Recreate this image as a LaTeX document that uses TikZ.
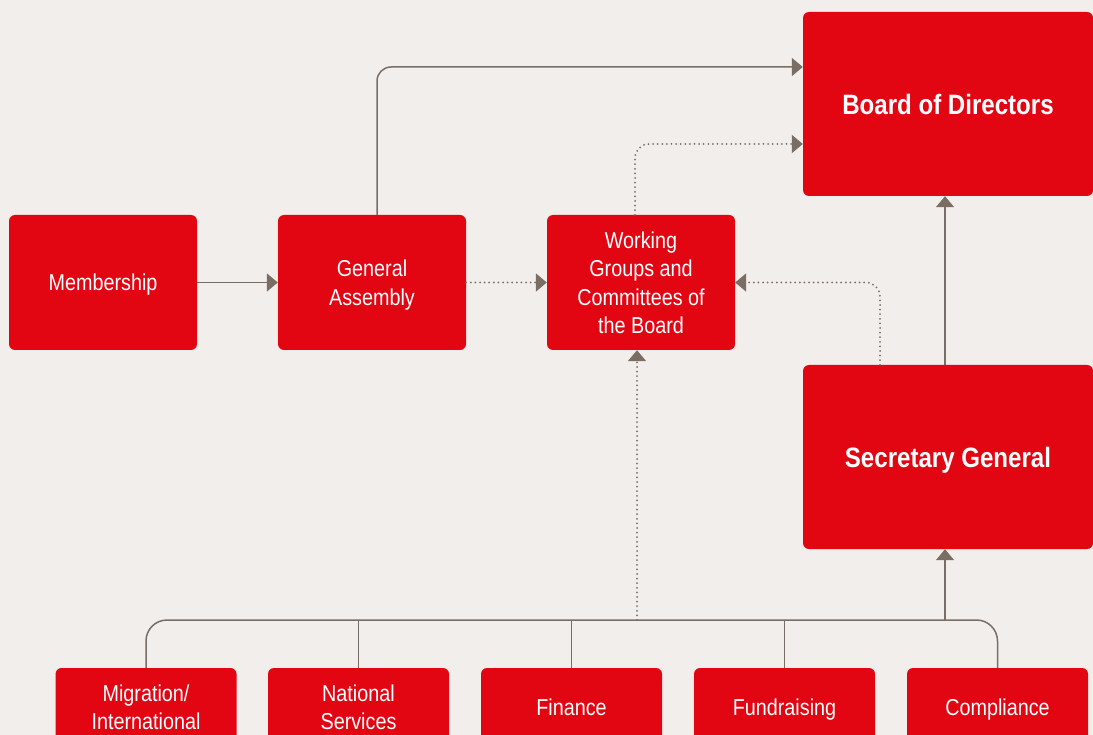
\documentclass[tikz,border=0pt]{standalone}
\usepackage{fontspec}
\setmainfont{Liberation Sans}[FakeStretch=0.86]
\usetikzlibrary{arrows.meta}
\definecolor{boxred}{RGB}{226,6,19}
\definecolor{paper}{RGB}{241,238,235}
\definecolor{linkgrey}{RGB}{122,110,100}

\begin{document}
\begin{tikzpicture}[x=1pt,y=-1pt,
    box/.style={fill=boxred, rounded corners=6pt, text=white, align=center, inner sep=0pt, text depth=0pt,
        minimum width=188pt, minimum height=135pt, font={\fontsize{23}{28.5}\selectfont}},
    bigbox/.style={box, minimum width=290pt, minimum height=184pt, font={\fontsize{28}{33}\selectfont\bfseries}},
    unitbox/.style={box, minimum width=181pt, minimum height=78pt},
    link/.style={draw=linkgrey, line width=1.5pt},
    dotlink/.style={draw=linkgrey, line width=2pt, line cap=round, dash pattern=on 0pt off 4.6pt},
    tip/.style={-{Triangle[length=11pt,width=18pt]}}
]
    %set diagram size 1093 x 735
    \clip (0,0) rectangle (1093,735);
    \fill[paper] (0,0) rectangle (1093,735);

    % Top row
    \node[box] (member) at (103,282.5) {Membership};
    \node[box] (assembly) at (372,282.5) {General\\Assembly};
    \node[box] (working) at (641,282.5) {Working\\Groups and\\Committees of\\the Board};
    % Right column
    \node[bigbox] (board) at (948,104) {Board of Directors};
    \node[bigbox] (secretary) at (948,457) {Secretary General};
    % Bottom row
    \node[unitbox] (migration) at (146,707) {Migration/\\International};
    \node[unitbox] (national) at (358.5,707) {National\\Services};
    \node[unitbox] (finance) at (571.5,707) {Finance};
    \node[unitbox] (fundraising) at (784.5,707) {Fundraising};
    \node[unitbox] (compliance) at (997.5,707) {Compliance};

    % Connector points
    \coordinate (bus) at (0,620);
    \coordinate (gaout) at ([xshift=5pt]assembly.north);
    \coordinate (wgout) at ([xshift=-6pt]working.north);
    \coordinate (wgin) at ([xshift=-4pt]working.south);
    \coordinate (sgout) at ([xshift=-68pt]secretary.north);
    \coordinate (sgup) at ([xshift=-3pt]secretary.north);
    \coordinate (sgin) at ([xshift=-3pt]secretary.south);

    % Straight Lines
    \draw[link, tip] (member) -- (assembly);
    \draw[dotlink, tip] (assembly) -- (working);
    \draw[link, tip, rounded corners=14pt] (gaout) |- ([yshift=37pt]board.west);
    \draw[dotlink, tip, rounded corners=14pt] (wgout) |- ([yshift=-40pt]board.west);
    \draw[dotlink, tip, rounded corners=14pt] (sgout) |- (working.east);
    \draw[link, tip] (sgup) -- (board.south -| sgup);

    % Bus
    \draw[link, rounded corners=21pt] (migration.north) -- (migration.north |- bus) -- (compliance.north |- bus) -- (compliance.north);
    \foreach \unit in {national, finance, fundraising}
        \draw[link] (\unit.north) -- (\unit.north |- bus);
    \draw[dotlink, tip] (wgin |- bus) -- (wgin);
    \draw[link, tip] (sgin |- bus) -- (sgin);
\end{tikzpicture}
\end{document}
